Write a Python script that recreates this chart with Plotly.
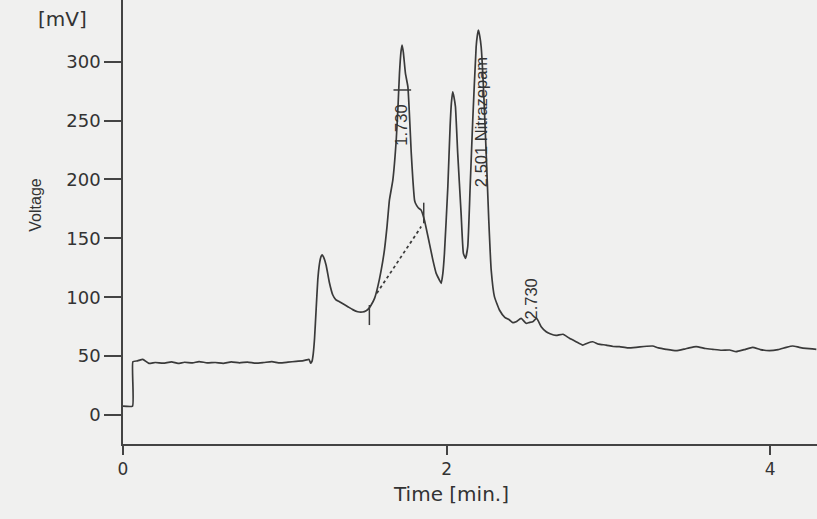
import plotly.graph_objects as go

# ---- chromatogram trace ----
time_min = [0.000, 0.059, 0.061, 0.090, 0.122, 0.160, 0.200, 0.250, 0.300, 0.340,
            0.380, 0.430, 0.470, 0.520, 0.570, 0.620, 0.670, 0.720, 0.770, 0.820,
            0.870, 0.920, 0.970, 1.020, 1.070, 1.110, 1.135, 1.150, 1.160, 1.168,
            1.176, 1.184, 1.194, 1.204, 1.214, 1.224, 1.231, 1.240, 1.256, 1.275,
            1.297, 1.315, 1.338, 1.365, 1.390, 1.420, 1.451, 1.480, 1.503, 1.520,
            1.534, 1.555, 1.575, 1.596, 1.616, 1.632, 1.647, 1.668, 1.689, 1.700,
            1.709, 1.718, 1.725, 1.733, 1.746, 1.761, 1.782, 1.792, 1.802, 1.808,
            1.825, 1.843, 1.863, 1.894, 1.915, 1.936, 1.956, 1.967, 1.977, 1.987,
            2.008, 2.022, 2.030, 2.038, 2.046, 2.055, 2.069, 2.090, 2.104, 2.117,
            2.131, 2.146, 2.162, 2.183, 2.190, 2.197, 2.205, 2.214, 2.228, 2.245,
            2.261, 2.276, 2.296, 2.327, 2.360, 2.389, 2.410, 2.430, 2.461, 2.492,
            2.510, 2.533, 2.557, 2.585, 2.616, 2.640, 2.677, 2.720, 2.760, 2.801,
            2.842, 2.870, 2.904, 2.940, 2.986, 3.030, 3.069, 3.120, 3.172, 3.220,
            3.274, 3.310, 3.357, 3.419, 3.470, 3.500, 3.543, 3.600, 3.645, 3.700,
            3.750, 3.790, 3.840, 3.892, 3.940, 3.996, 4.050, 4.100, 4.140, 4.180,
            4.222, 4.286]
voltage_mv = [7.6, 7.6, 45.3, 46.0, 47.3, 43.9, 44.6, 44.0, 45.2, 43.8,
              44.8, 44.2, 45.4, 44.3, 44.6, 43.9, 45.2, 44.3, 45.0, 44.1,
              44.6, 45.3, 44.2, 44.9, 45.6, 46.0, 46.8, 47.2, 44.0, 45.5,
              52.0, 65.0, 90.0, 114.6, 128.0, 134.5, 136.0, 134.0, 127.0, 113.0,
              101.9, 98.0, 96.2, 94.0, 92.0, 89.5, 87.7, 87.5, 88.6, 90.5,
              93.4, 99.0, 109.0, 123.0, 140.0, 160.0, 182.6, 199.5, 233.5, 262.0,
              290.0, 308.0, 314.2, 308.0, 290.0, 278.8, 222.0, 199.5, 182.6, 179.8,
              176.0, 174.0, 165.6, 145.8, 132.0, 120.3, 114.6, 111.8, 120.0, 137.3,
              193.9, 244.8, 265.0, 274.5, 270.0, 261.8, 222.2, 171.2, 137.3, 133.0,
              142.9, 193.9, 250.5, 312.7, 322.0, 326.9, 322.0, 312.7, 278.8, 222.2,
              165.6, 123.1, 100.5, 89.2, 83.0, 80.7, 78.5, 79.2, 82.1, 77.9,
              78.5, 79.2, 82.1, 75.0, 70.7, 69.0, 67.6, 68.6, 65.1, 62.2,
              59.4, 61.0, 62.2, 60.2, 59.4, 58.2, 58.0, 57.0, 57.5, 58.2,
              58.6, 57.0, 55.8, 54.6, 56.0, 57.0, 58.0, 56.5, 55.8, 55.0,
              55.2, 53.8, 55.5, 57.5, 55.6, 54.6, 55.5, 57.5, 58.6, 57.5,
              56.6, 55.8]

# ---- integration marks ----
baseline_t = [1.569, 1.843]          # dotted baseline under 1.730 peak
baseline_v = [103.3, 160.0]
apex_tick_t = [1.672, 1.781]         # horizontal tick across 1.730 peak
apex_tick_v = [276.0, 276.0]
start_tick_t = [1.523, 1.523]        # vertical start mark
start_tick_v = [76.4, 93.4]
end_tick_t = [1.859, 1.859]          # vertical end mark
end_tick_v = [162.8, 180.3]

# ---- peak labels ----
peak_labels = ["1.730", "2.501 Nitrazepam", "2.730"]
peak_label_t = [1.721, 2.209, 2.525]
peak_label_v = [246.0, 249.0, 98.5]

# ---- axes ----
x_ticks = [0, 2, 4]
x_ticklabels = ["0", "2", "4"]
y_ticks = [0, 50, 100, 150, 200, 250, 300]
y_ticklabels = ["0", "50", "100", "150", "200", "250", "300"]

ink = "#3a3a3a"
paper = "#f0f0ef"
arial = "Liberation Sans, Arial, sans-serif"
wide = "DejaVu Sans, Verdana, sans-serif"

fig = go.Figure()
fig.add_trace(go.Scatter(x=time_min, y=voltage_mv, mode="lines",
                         line=dict(color=ink, width=1.7, shape="spline", smoothing=0.4),
                         hoverinfo="skip"))
fig.add_trace(go.Scatter(x=baseline_t, y=baseline_v, mode="lines",
                         line=dict(color=ink, width=1.8, dash="dot"), hoverinfo="skip"))
for tt, vv in [(apex_tick_t, apex_tick_v), (start_tick_t, start_tick_v), (end_tick_t, end_tick_v)]:
    fig.add_trace(go.Scatter(x=tt, y=vv, mode="lines",
                             line=dict(color=ink, width=1.5), hoverinfo="skip"))

for txt, tx, vy in zip(peak_labels, peak_label_t, peak_label_v):
    fig.add_annotation(x=tx, y=vy, xref="x", yref="y", text=txt, showarrow=False,
                       xanchor="center", yanchor="middle", textangle=-90,
                       font=dict(family=arial, size=16.5, color="#333333"))

# axis titles / unit as annotations positioned in paper space
fig.add_annotation(x=0.4726, y=-0.1115, xref="paper", yref="paper", text="Time [min.]",
                   xanchor="center", yanchor="middle", showarrow=False,
                   font=dict(family=wide, size=20, color="#333333"))
fig.add_annotation(x=-0.126, y=0.538, xref="paper", yref="paper", text="Voltage",
                   xanchor="center", yanchor="middle", showarrow=False, textangle=-90,
                   font=dict(family=arial, size=16, color="#333333"))
fig.add_annotation(x=-0.0865, y=0.957, xref="paper", yref="paper", text="[mV]",
                   xanchor="center", yanchor="middle", showarrow=False,
                   font=dict(family=wide, size=20, color="#333333"))

fig.update_layout(
    width=817, height=519,
    margin=dict(l=123, r=0, t=0, b=75),
    paper_bgcolor=paper, plot_bgcolor=paper,
    showlegend=False,
    xaxis=dict(range=[0, 4.29], tickvals=x_ticks, ticktext=x_ticklabels,
               ticks="outside", ticklen=9, tickwidth=1.5, tickcolor="#444444",
               showline=True, linecolor="#444444", linewidth=1.5,
               showgrid=False, zeroline=False,
               tickfont=dict(family=wide, size=17, color="#333333")),
    yaxis=dict(range=[-24.6, 352.4], tickvals=y_ticks, ticktext=y_ticklabels,
               ticks="outside", ticklen=17, tickwidth=1.5, tickcolor="#444444",
               showline=True, linecolor="#444444", linewidth=1.5,
               showgrid=False, zeroline=False,
               tickfont=dict(family=wide, size=18, color="#333333")),
)

fig.write_html("out.html")
